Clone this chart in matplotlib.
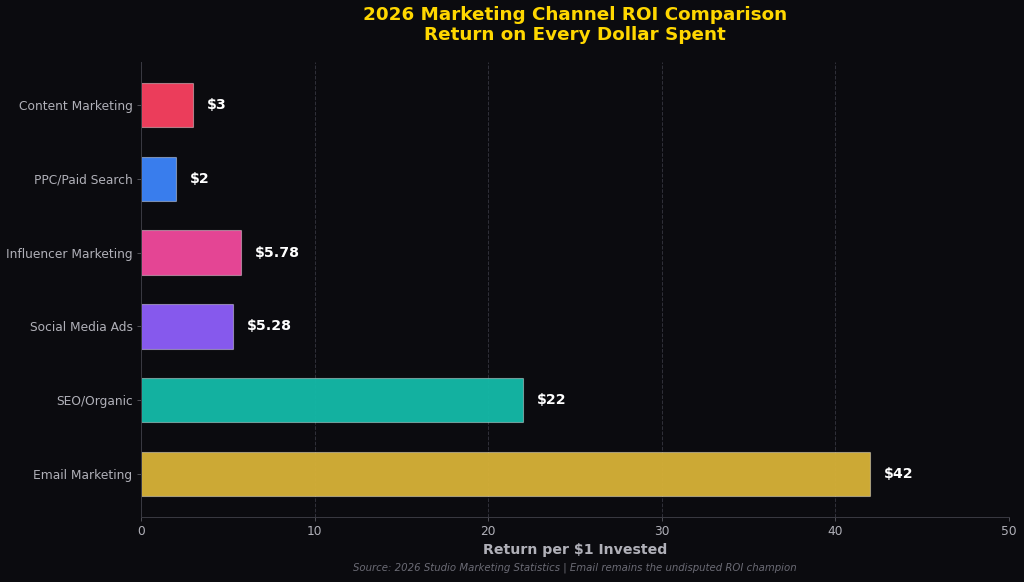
import matplotlib
matplotlib.use("Agg")
import matplotlib.pyplot as plt
from matplotlib.colors import to_rgba

plt.rcParams["font.family"] = ["DejaVu Sans"]

channels = ["Email Marketing", "SEO/Organic", "Social Media Ads",
            "Influencer Marketing", "PPC/Paid Search", "Content Marketing"]
roi = [42, 22, 5.28, 5.78, 2, 3]
labels = ["$42", "$22", "$5.28", "$5.78", "$2", "$3"]
colors = ["#d4af37", "#14b8a6", "#8b5cf6", "#ec4899", "#3b82f6", "#f43f5e"]

bg = "#0b0b0f"
fig = plt.figure(figsize=(10.24, 5.82), dpi=100, facecolor=bg)
ax = fig.add_axes([0.1377, 0.1117, 0.8477, 0.7818], facecolor=bg)

ax.set_axisbelow(True)
ax.grid(axis="x", linestyle="--", color="#3a3a44", linewidth=0.7, alpha=0.8)
faces = [to_rgba(c, 0.97) for c in colors]
bars = ax.barh(channels, roi, height=0.6, color=faces,
               edgecolor=(1, 1, 1, 0.4), linewidth=0.8)

for i, (v, t) in enumerate(zip(roi, labels)):
    ax.text(v + 0.8, i, t, va="center", ha="left", color="white",
            fontsize=10.2, fontweight="bold")

ax.set_xlim(0, 50)
ax.set_xticks([0, 10, 20, 30, 40, 50])
ax.tick_params(colors="#b0b0b8", labelsize=8.8, length=2.6, width=0.6)
ax.tick_params(axis="both", color="#5a5a62")
for s in ["top", "right"]:
    ax.spines[s].set_visible(False)
for s in ["left", "bottom"]:
    ax.spines[s].set_color("#3a3a42")
    ax.spines[s].set_linewidth(0.7)

ax.set_xlabel("Return per $1 Invested", color="#b0b0b8", fontsize=10.2,
              fontweight="bold", labelpad=3)
fig.text(0.5615, 0.957, "2026 Marketing Channel ROI Comparison\nReturn on Every Dollar Spent",
         color="#FFD700", fontsize=13.2, fontweight="bold", ha="center",
         va="center", linespacing=1.15)
fig.text(0.5615, 0.024, "Source: 2026 Studio Marketing Statistics | Email remains the undisputed ROI champion",
         ha="center", va="center", color="#6b6b75", fontsize=7.3, style="italic")

fig.savefig("out.png", dpi=100, facecolor=bg)
